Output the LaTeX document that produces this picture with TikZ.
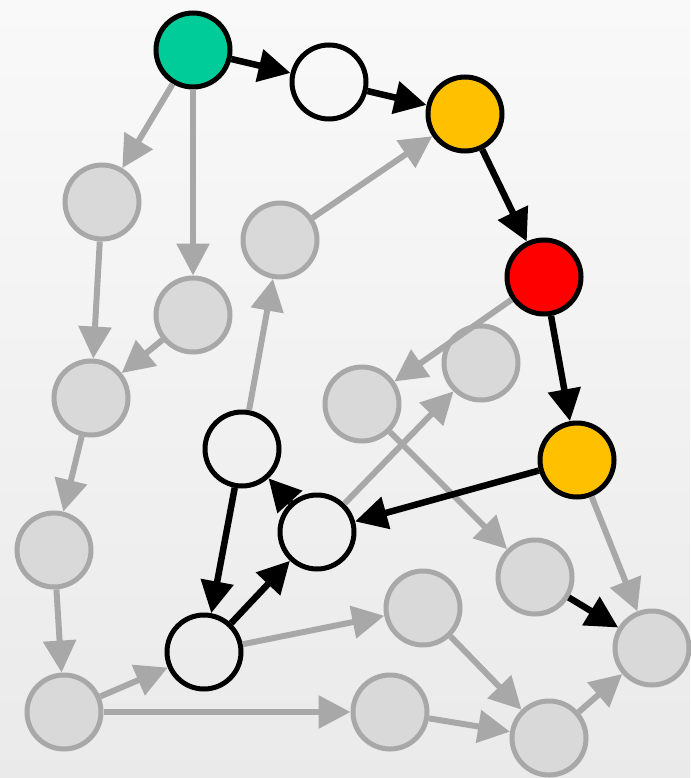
\documentclass[tikz,border=0pt]{standalone}
\usetikzlibrary{arrows.meta}
\definecolor{bgtop}{HTML}{F9F9F9}
\definecolor{bgbot}{HTML}{EAEAEA}
\definecolor{gedge}{HTML}{A8A8A8}
\definecolor{gfill}{HTML}{D9D9D9}
\definecolor{green1}{HTML}{00CC99}
\definecolor{orange1}{HTML}{FFC000}
\begin{document}
\begin{tikzpicture}[x=1pt,y=-1pt,
  nd/.style={circle,minimum size=74pt,inner sep=0pt,line width=5pt},
  act/.style={nd,draw=black},
  ina/.style={nd,draw=gedge,fill=gfill},
  bk/.style={line width=6.5pt,draw=black,-{Triangle[length=32pt,width=32pt]}},
  gr/.style={line width=6pt,draw=gedge,-{Triangle[length=32pt,width=32pt]}}]
\shade[top color=bgtop,bottom color=bgbot] (0,0) rectangle (690,778);
\useasboundingbox (0,0) rectangle (690,778);
\node[act,fill=green1] (n1) at (193,50) {};
\node[act] (n2) at (329,82) {};
\node[act,fill=orange1] (n3) at (465,114) {};
\node[act,fill=red] (n4) at (544,277) {};
\node[act,fill=orange1] (n5) at (577,460) {};
\node[act] (n6) at (317,532) {};
\node[act] (n7) at (242,449) {};
\node[act] (n8) at (204,652) {};
\node[ina] (n9) at (102,202) {};
\node[ina] (n10) at (193,315) {};
\node[ina] (n11) at (280,240) {};
\node[ina] (n12) at (91,398) {};
\node[ina] (n13) at (54,550) {};
\node[ina] (n14) at (64,712) {};
\node[ina] (n15) at (362,404) {};
\node[ina] (n16) at (481,363) {};
\node[ina] (n17) at (535,577) {};
\node[ina] (n18) at (423,608) {};
\node[ina] (n19) at (390,712) {};
\node[ina] (n20) at (549,738) {};
\node[ina] (n21) at (652,648) {};
% gray edges
\draw[gr] (n1) -- (n9);
\draw[gr] (n1) -- (n10);
\draw[gr] (n9) -- (n12);
\draw[gr] (n10) -- (n12);
\draw[gr] (n12) -- (n13);
\draw[gr] (n13) -- (n14);
\draw[gr] (n14) -- (n8);
\draw[gr] (n14) -- (n19);
\draw[gr] (n7) -- (n11);
\draw[gr] (n11) -- (n3);
\draw[gr] (n4) -- (n15);
\draw[gr] (n6) -- (n16);
\draw[gr] (n15) -- (n17);
\draw[gr] (n8) -- (n18);
\draw[gr] (n18) -- (n20);
\draw[gr] (n19) -- (n20);
\draw[gr] (n20) -- (n21);
\draw[gr] (n5) -- (n21);
% black edges
\draw[bk] (n1) -- (n2);
\draw[bk] (n2) -- (n3);
\draw[bk] (n3) -- (n4);
\draw[bk] (n4) -- (n5);
\draw[bk] (n5) -- (n6);
\draw[bk] (n6) -- (n7);
\draw[bk] (n7) -- (n8);
\draw[bk] (n8) -- (n6);
\draw[bk] (n17) -- (n21);
\end{tikzpicture}
\end{document}
